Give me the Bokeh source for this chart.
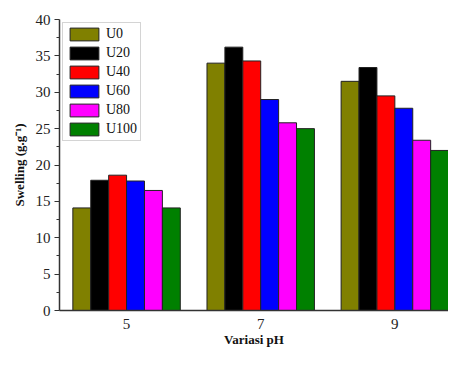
from bokeh.plotting import figure
from bokeh.models import ColumnDataSource, Legend, LegendItem, FixedTicker, Range1d
from bokeh.transform import dodge
from bokeh.embed import file_html
from bokeh.resources import INLINE

ph = [5, 7, 9]
series = ["U0", "U20", "U40", "U60", "U80", "U100"]
U0 = [14.1, 34.0, 31.5]
U20 = [17.9, 36.2, 33.4]
U40 = [18.6, 34.3, 29.5]
U60 = [17.8, 29.0, 27.8]
U80 = [16.5, 25.8, 23.4]
U100 = [14.1, 25.0, 22.0]
colors = ["#808000", "#000000", "#ff0000", "#0000ff", "#ff00ff", "#008000"]
y_ticks = [0, 5, 10, 15, 20, 25, 30, 35, 40]

src = ColumnDataSource(dict(ph=ph, U0=U0, U20=U20, U40=U40, U60=U60, U80=U80, U100=U100))

p = figure(width=448, height=349, output_backend="svg", toolbar_location=None,
           x_range=Range1d(4, 9.8), y_range=Range1d(0, 40),
           min_border_left=59, min_border_right=0, min_border_top=19, min_border_bottom=31)
p.outline_line_color = None
p.grid.visible = False
p.background_fill_color = "white"
p.border_fill_color = "white"

bw = 0.267
items = []
for i, (s, c) in enumerate(zip(series, colors)):
    off = (i - 2.5) * bw
    r = p.vbar(x=dodge("ph", off, range=p.x_range), top=s, width=bw, source=src,
               fill_color=c, line_color="#222222", line_width=1)
    items.append(LegendItem(label=s, renderers=[r]))

font = "Liberation Serif"
p.xaxis.ticker = FixedTicker(ticks=ph)
p.yaxis.ticker = FixedTicker(ticks=y_ticks, minor_ticks=[2.5 + 5 * k for k in range(8)])
p.yaxis.major_tick_out = 5
p.yaxis.major_tick_in = 0
p.yaxis.minor_tick_out = 3
p.yaxis.minor_tick_in = 0
for ax in (p.xaxis, p.yaxis):
    ax.axis_line_color = "#333333"
    ax.axis_line_width = 1.5
    ax.major_label_text_font = font
    ax.major_label_text_font_size = "15px"
    ax.major_label_text_color = "#222222"
    ax.axis_label_text_font = font
    ax.axis_label_text_font_style = "bold"
    ax.axis_label_text_font_size = "13px"
    ax.axis_label_text_color = "#111111"
p.xaxis.major_tick_line_color = None
p.xaxis.minor_tick_line_color = None
p.yaxis.major_tick_line_color = "#333333"
p.yaxis.minor_tick_line_color = "#333333"
p.xaxis.major_label_standoff = 2
p.xaxis.axis_label = "Variasi pH"
p.xaxis.axis_label_standoff = 0
p.yaxis.axis_label = "Swelling (g.g\u207b\u00b9)"
p.yaxis.axis_label_standoff = 6
p.yaxis.major_label_standoff = 4

legend = Legend(items=items, location="top_left")
legend.label_text_font = font
legend.label_text_font_size = "14px"
legend.label_text_color = "#111111"
legend.glyph_width = 36
legend.glyph_height = 16
legend.label_height = 16
legend.spacing = 3
legend.padding = 3
legend.margin = 3
legend.label_standoff = 4
legend.border_line_color = "#aaaaaa"
legend.border_line_width = 1
legend.background_fill_alpha = 1
p.add_layout(legend)

open("out.html", "w").write(file_html(p, INLINE))
